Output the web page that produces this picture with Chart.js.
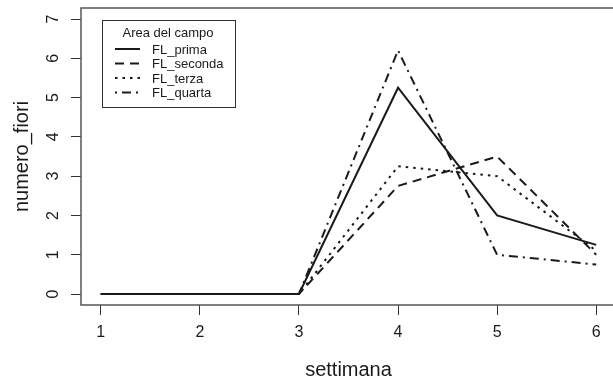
<!DOCTYPE html>
<html>
<head>
<meta charset="utf-8">
<script src="https://cdn.jsdelivr.net/npm/chart.js@4"></script>
<style>
  html, body { margin: 0; padding: 0; overflow: hidden; background: #fff; }
</style>
</head>
<body>
<canvas id="fioriChart" width="640" height="382"></canvas>
<script>
// data
var settimane = [1, 2, 3, 4, 5, 6];
var flPrima   = [0, 0, 0, 5.25, 2, 1.25];
var flSeconda = [0, 0, 0, 2.75, 3.5, 1];
var flTerza   = [0, 0, 0, 3.25, 3, 1.1];
var flQuarta  = [0, 0, 0, 6.2, 1, 0.75];
var nomiSerie = ['FL_prima', 'FL_seconda', 'FL_terza', 'FL_quarta'];
var xTicks = [1, 2, 3, 4, 5, 6];
var yTicks = [0, 1, 2, 3, 4, 5, 6, 7];
var legendTitle = 'Area del campo';

var ink = '#1a1a1a';
var dashes = [[], [9, 6], [2.5, 5], [2, 5, 9, 5]];

function punti(vals) {
  return settimane.map(function(w, i) { return {x: w, y: vals[i]}; });
}

var serie = [flPrima, flSeconda, flTerza, flQuarta];
var datasets = serie.map(function(vals, i) {
  return {
    label: nomiSerie[i],
    data: punti(vals),
    borderColor: ink,
    borderWidth: 2,
    borderDash: dashes[i],
    pointRadius: 0,
    tension: 0,
    fill: false
  };
});

// box around plot + rotated y labels + legend inside the plot
var rPlotExtras = {
  id: 'rPlotExtras',
  afterDraw: function(chart) {
    var ctx = chart.ctx;
    var a = chart.chartArea;
    ctx.save();
    ctx.strokeStyle = '#555';
    ctx.lineWidth = 1.5;
    ctx.strokeRect(a.left, a.top, a.right - a.left, a.bottom - a.top);

    // y tick labels, rotated like R does
    var ys = chart.scales.y;
    ctx.fillStyle = ink;
    ctx.font = '16px "Liberation Sans", Arial, sans-serif';
    ctx.textAlign = 'center';
    ctx.textBaseline = 'middle';
    ys.ticks.forEach(function(t) {
      var py = ys.getPixelForValue(t.value);
      ctx.save();
      ctx.translate(54, py);
      ctx.rotate(-Math.PI / 2);
      ctx.fillText(String(t.value), 0, 0);
      ctx.restore();
    });

    // legend
    var lx = 102, ly = 20, lw = 133, lh = 87;
    ctx.fillStyle = '#fff';
    ctx.fillRect(lx, ly, lw, lh);
    ctx.strokeStyle = '#333';
    ctx.lineWidth = 1;
    ctx.strokeRect(lx + 0.5, ly + 0.5, lw, lh);
    ctx.fillStyle = ink;
    ctx.font = '13px "Liberation Sans", Arial, sans-serif';
    ctx.textAlign = 'center';
    ctx.fillText(legendTitle, lx + 66, ly + 13);
    ctx.textAlign = 'left';
    chart.data.datasets.forEach(function(ds, i) {
      var ry = ly + 29 + i * 14.5;
      ctx.save();
      ctx.strokeStyle = ds.borderColor;
      ctx.lineWidth = 2;
      ctx.setLineDash(ds.borderDash);
      ctx.beginPath();
      ctx.moveTo(lx + 13, ry);
      ctx.lineTo(lx + 38, ry);
      ctx.stroke();
      ctx.restore();
      ctx.fillText(ds.label, lx + 50, ry + 1);
    });
    ctx.restore();
  }
};

var ctx = document.getElementById('fioriChart').getContext('2d');

var fioriChart = new Chart(ctx, {
  type: 'line',
  data: { datasets: datasets },
  options: {
    responsive: false,
    animation: false,
    layout: { padding: { top: 8, right: 24, left: 0, bottom: 0 } },
    plugins: {
      legend: { display: false },
      tooltip: { enabled: false }
    },
    scales: {
      x: {
        type: 'linear',
        min: 0.8,
        max: 6.2,
        afterBuildTicks: function(scale) {
          scale.ticks = xTicks.map(function(v) { return {value: v}; });
        },
        afterFit: function(scale) { scale.height = 77; },
        border: { display: false },
        grid: { drawOnChartArea: false, drawTicks: true, tickLength: 10, color: '#333', lineWidth: 1 },
        ticks: {
          color: ink,
          padding: 8,
          maxRotation: 0,
          font: { family: '"Liberation Sans", Arial, sans-serif', size: 16 }
        },
        title: {
          display: true,
          text: 'settimana',
          color: ink,
          padding: { top: 0, bottom: 0 },
          font: { family: '"Liberation Sans", Arial, sans-serif', size: 20 }
        }
      },
      y: {
        min: -0.28,
        max: 7.28,
        afterBuildTicks: function(scale) {
          scale.ticks = yTicks.map(function(v) { return {value: v}; });
        },
        afterFit: function(scale) { scale.width = 81; },
        border: { display: false },
        grid: { drawOnChartArea: false, drawTicks: true, tickLength: 10, color: '#333', lineWidth: 1 },
        ticks: { display: false },
        title: {
          display: true,
          text: 'numero_fiori',
          color: ink,
          padding: { top: 10, bottom: 0 },
          font: { family: '"Liberation Sans", Arial, sans-serif', size: 20 }
        }
      }
    }
  },
  plugins: [rPlotExtras]
});
</script>
</body>
</html>
